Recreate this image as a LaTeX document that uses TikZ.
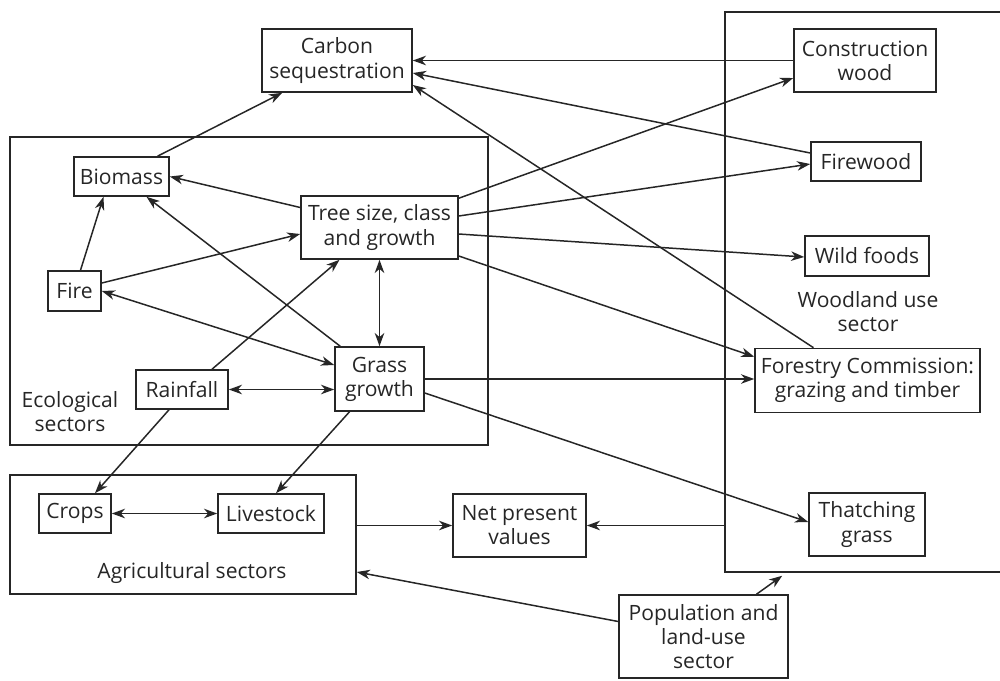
\documentclass[tikz,border=0pt]{standalone}
\usepackage{fontspec}
\setmainfont{Open Sans}
\usetikzlibrary{arrows.meta, calc, positioning}
\definecolor{ink}{HTML}{262626}

\tikzset{
  >={Stealth[length=7.5pt,width=5.4pt,inset=2.3pt]},
  box/.style={draw=ink, line width=0.9pt, align=center, inner sep=0pt,
    text=ink, font=\fontsize{12}{13.7}\selectfont},
  sector/.style={draw=ink, line width=0.9pt, inner sep=0pt},
  sectorname/.style={align=center, text=ink, font=\fontsize{12}{13.7}\selectfont},
  link/.style={draw=ink, line width=0.85pt},
}

\begin{document}
\begin{tikzpicture}[x=0.02cm, y=-0.02cm]
  \clip (0,0) rectangle (1000,680);

  % sectors
  \node[sector, minimum width=9.56cm, minimum height=6.16cm] (eco) at (249,291) {};
  \node[sector, minimum width=6.92cm, minimum height=2.38cm] (agri) at (183,534.5) {};
  \node[sector, minimum width=5.7cm, minimum height=11.2cm] (wood) at (867.5,292) {};
  \node[sectorname] (econame) at (70,412) {Ecological\\sectors};
  \node[sectorname] (agriname) at (192,573) {Agricultural sectors};
  \node[sectorname] (woodname) at (868,312) {Woodland use\\sector};

  \node[box, minimum width=3cm, minimum height=1.26cm] (carbon) at (337,60.5) {Carbon\\sequestration};
  \node[box, minimum width=1.9cm, minimum height=0.78cm] (biomass) at (121.5,176.5) {Biomass};
  \node[box, minimum width=3.14cm, minimum height=1.26cm] (tree) at (379.5,227.5) {Tree size, class\\and growth};
  \node[box, minimum width=1.06cm, minimum height=0.8cm] (fire) at (74.5,291) {Fire};
  \node[box, minimum width=1.84cm, minimum height=0.78cm] (rain) at (182,389.5) {Rainfall};
  \node[box, minimum width=1.78cm, minimum height=1.28cm] (grass) at (379.5,379) {Grass\\growth};
  \node[box, minimum width=1.44cm, minimum height=0.78cm] (crops) at (75,513.5) {Crops};
  \node[box, minimum width=2.12cm, minimum height=0.78cm] (livestock) at (271,513.5) {Livestock};
  \node[box, minimum width=2.66cm, minimum height=1.26cm] (npv) at (519.5,525.5) {Net present\\values};
  \node[box, minimum width=2.84cm, minimum height=1.26cm] (construction) at (865,60.5) {Construction\\wood};
  \node[box, minimum width=2.2cm, minimum height=0.78cm] (firewood) at (866,161.5) {Firewood};
  \node[box, minimum width=2.48cm, minimum height=0.8cm] (wildfoods) at (867,256) {Wild foods};
  \node[box, minimum width=4.5cm, minimum height=1.28cm] (forestry) at (867.5,380.5) {Forestry Commission:\\grazing and timber};
  \node[box, minimum width=2.32cm, minimum height=1.26cm] (thatching) at (867,524.5) {Thatching\\grass};
  \node[box, minimum width=3.38cm, minimum height=1.66cm] (population) at (703.5,636.5) {Population and\\land-use\\sector};

  % ecological links
  \draw[link, ->] ($(biomass.north)+(36,0)$) -- ($(carbon.south west)+(21,0)$);
  \draw[link, ->] ($(tree.west)+(0,-20)$) -- (biomass.east);
  \draw[link, ->] ($(grass.north west)+(6,0)$) -- ($(biomass.south)+(25,0)$);
  \draw[link, ->] ($(fire.north)+(6,0)$) -- ($(biomass.south)+(-18,0)$);
  \draw[link, ->] ($(fire.east)+(0,-8)$) -- ($(tree.west)+(0,6.5)$);
  \draw[link, <->] (fire.east) -- ($(grass.west)+(0,-14)$);
  \draw[link, ->] ($(rain.north)+(30,0)$) -- ($(tree.south)+(-40,0)$);
  \draw[link, <->] (tree.south) -- (grass.north);
  \draw[link, <->] (rain.east) -- (rain.east -| grass.west);

  % agricultural links
  \draw[link, ->] ($(rain.south)+(-13,0)$) -- ($(crops.north)+(20,0)$);
  \draw[link, ->] ($(grass.south)+(-30,0)$) -- ($(livestock.north)+(5,0)$);
  \draw[link, <->] (crops.east) -- (livestock.west);
  \draw[link, ->] (npv.west -| agri.east) -- (npv.west);
  \draw[link, ->] (npv.east -| wood.west) -- (npv.east);
  \draw[link, ->] ($(population.west)+(0,-15)$) -- ($(agri.east)+(0,37.5)$);
  \draw[link, ->] ($(population.north)+(53,0)$) -- ($(wood.south west)+(58,3)$);

  % woodland links
  \draw[link, ->] (construction.west) -- (carbon.east);
  \draw[link, ->] ($(firewood.west)+(0,-8.5)$) -- ($(carbon.east)+(0,12.5)$);
  \draw[link, ->] ($(forestry.north)+(-54,0)$) -- ($(carbon.east)+(0,24.5)$);
  \draw[link, ->] ($(tree.north east)+(0,3)$) -- ($(construction.west)+(0,17.5)$);
  \draw[link, ->] ($(tree.east)+(0,-11.5)$) -- ($(firewood.west)+(0,2.5)$);
  \draw[link, ->] ($(tree.east)+(0,6.5)$) -- ($(wildfoods.west)+(0,1)$);
  \draw[link, ->] ($(tree.east)+(0,28.5)$) -- ($(forestry.north west)+(0,9)$);
  \draw[link, ->] (grass.east) -- (grass.east -| forestry.west);
  \draw[link, ->] ($(grass.east)+(0,14)$) -- ($(thatching.west)+(0,-2.5)$);
\end{tikzpicture}
\end{document}
